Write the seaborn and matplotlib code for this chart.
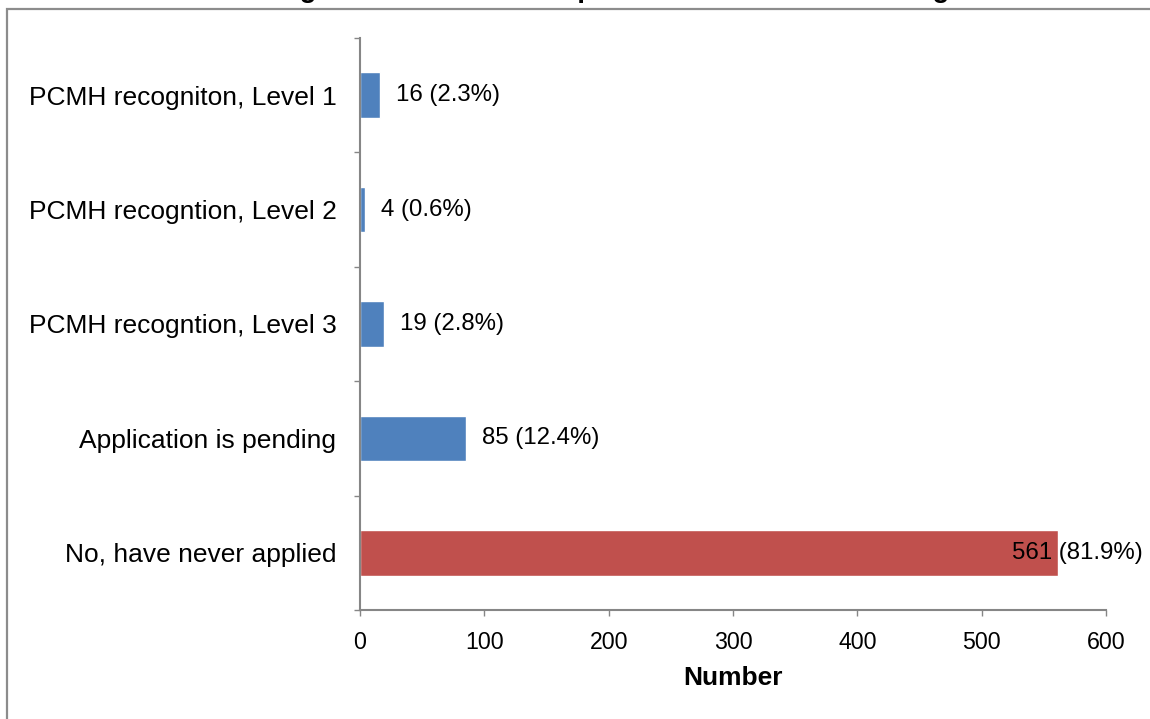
import matplotlib
matplotlib.use("Agg")
import matplotlib.pyplot as plt
import matplotlib.patches as mpatches
import seaborn as sns
import pandas as pd

# data
categories = ["PCMH recogniton, Level 1", "PCMH recogntion, Level 2",
              "PCMH recogntion, Level 3", "Application is pending",
              "No, have never applied"]
counts = [16, 4, 19, 85, 561]
percents = [2.3, 0.6, 2.8, 12.4, 81.9]
bar_colors = ["#4F81BD", "#4F81BD", "#4F81BD", "#4F81BD", "#C0504D"]
x_ticks = [0, 100, 200, 300, 400, 500, 600]

df = pd.DataFrame({"category": categories, "count": counts})

sns.set_style("white")
plt.rcParams["font.family"] = ["Liberation Sans", "DejaVu Sans"]
plt.rcParams["text.color"] = "black"
plt.rcParams["xtick.labelcolor"] = "black"
plt.rcParams["ytick.labelcolor"] = "black"
plt.rcParams["axes.labelcolor"] = "black"

fig = plt.figure(figsize=(11.5, 7.19), dpi=100)
ax = fig.add_axes([360 / 1150, 1 - 610 / 719, 746 / 1150, 572 / 719])

sns.barplot(data=df, x="count", y="category", hue="category",
            palette=bar_colors, legend=False, width=0.4, orient="h",
            saturation=1, ax=ax)

ax.set_xlim(0, 600)
ax.set_ylim(len(categories) - 0.5, -0.5)
ax.set_xticks(x_ticks)
ax.set_xticklabels([str(t) for t in x_ticks], fontsize=16.7)
ax.tick_params(axis="x", direction="out", length=4.5, width=1,
               color="#868686", pad=10.5, bottom=True)
ax.set_yticks(range(len(categories)))
ax.set_yticklabels(categories, fontsize=19)
ax.tick_params(axis="y", length=0, pad=17)
ax.set_yticks([i - 0.5 for i in range(len(categories) + 1)], minor=True)
ax.tick_params(axis="y", which="minor", direction="out", length=4.5,
               width=1, color="#868686", left=True)

for side in ["top", "right"]:
    ax.spines[side].set_visible(False)
for side in ["left", "bottom"]:
    ax.spines[side].set_color("#868686")
    ax.spines[side].set_linewidth(1.5)

ax.set_xlabel("Number", fontsize=19, fontweight="bold", labelpad=8.5)
ax.set_ylabel("")

# value labels
for i, (c, p) in enumerate(zip(counts, percents)):
    offset = -33 if c == max(counts) else 11.5
    ax.annotate(f"{c} ({p}%)", xy=(c, i), xytext=(offset, 0),
                textcoords="offset points", ha="left", va="center",
                fontsize=17.3)

# outer chart border (partly cut off in the reference)
fig.patches.append(mpatches.Rectangle((7 / 1150, -0.1), 1.2, 1 - 9 / 719 + 0.1,
                                      transform=fig.transFigure, fill=False,
                                      edgecolor="#8C8C8C", linewidth=1.6))

# title, mostly cut off at the top edge as in the reference
fig.text(142 / 1150, 1 + 3 / 719,
         "PCMH Recognition Status of Respondent Practices Including Level Achieved",
         ha="left", va="baseline", fontsize=20, fontweight="bold")

fig.savefig("out.png", dpi=100)
